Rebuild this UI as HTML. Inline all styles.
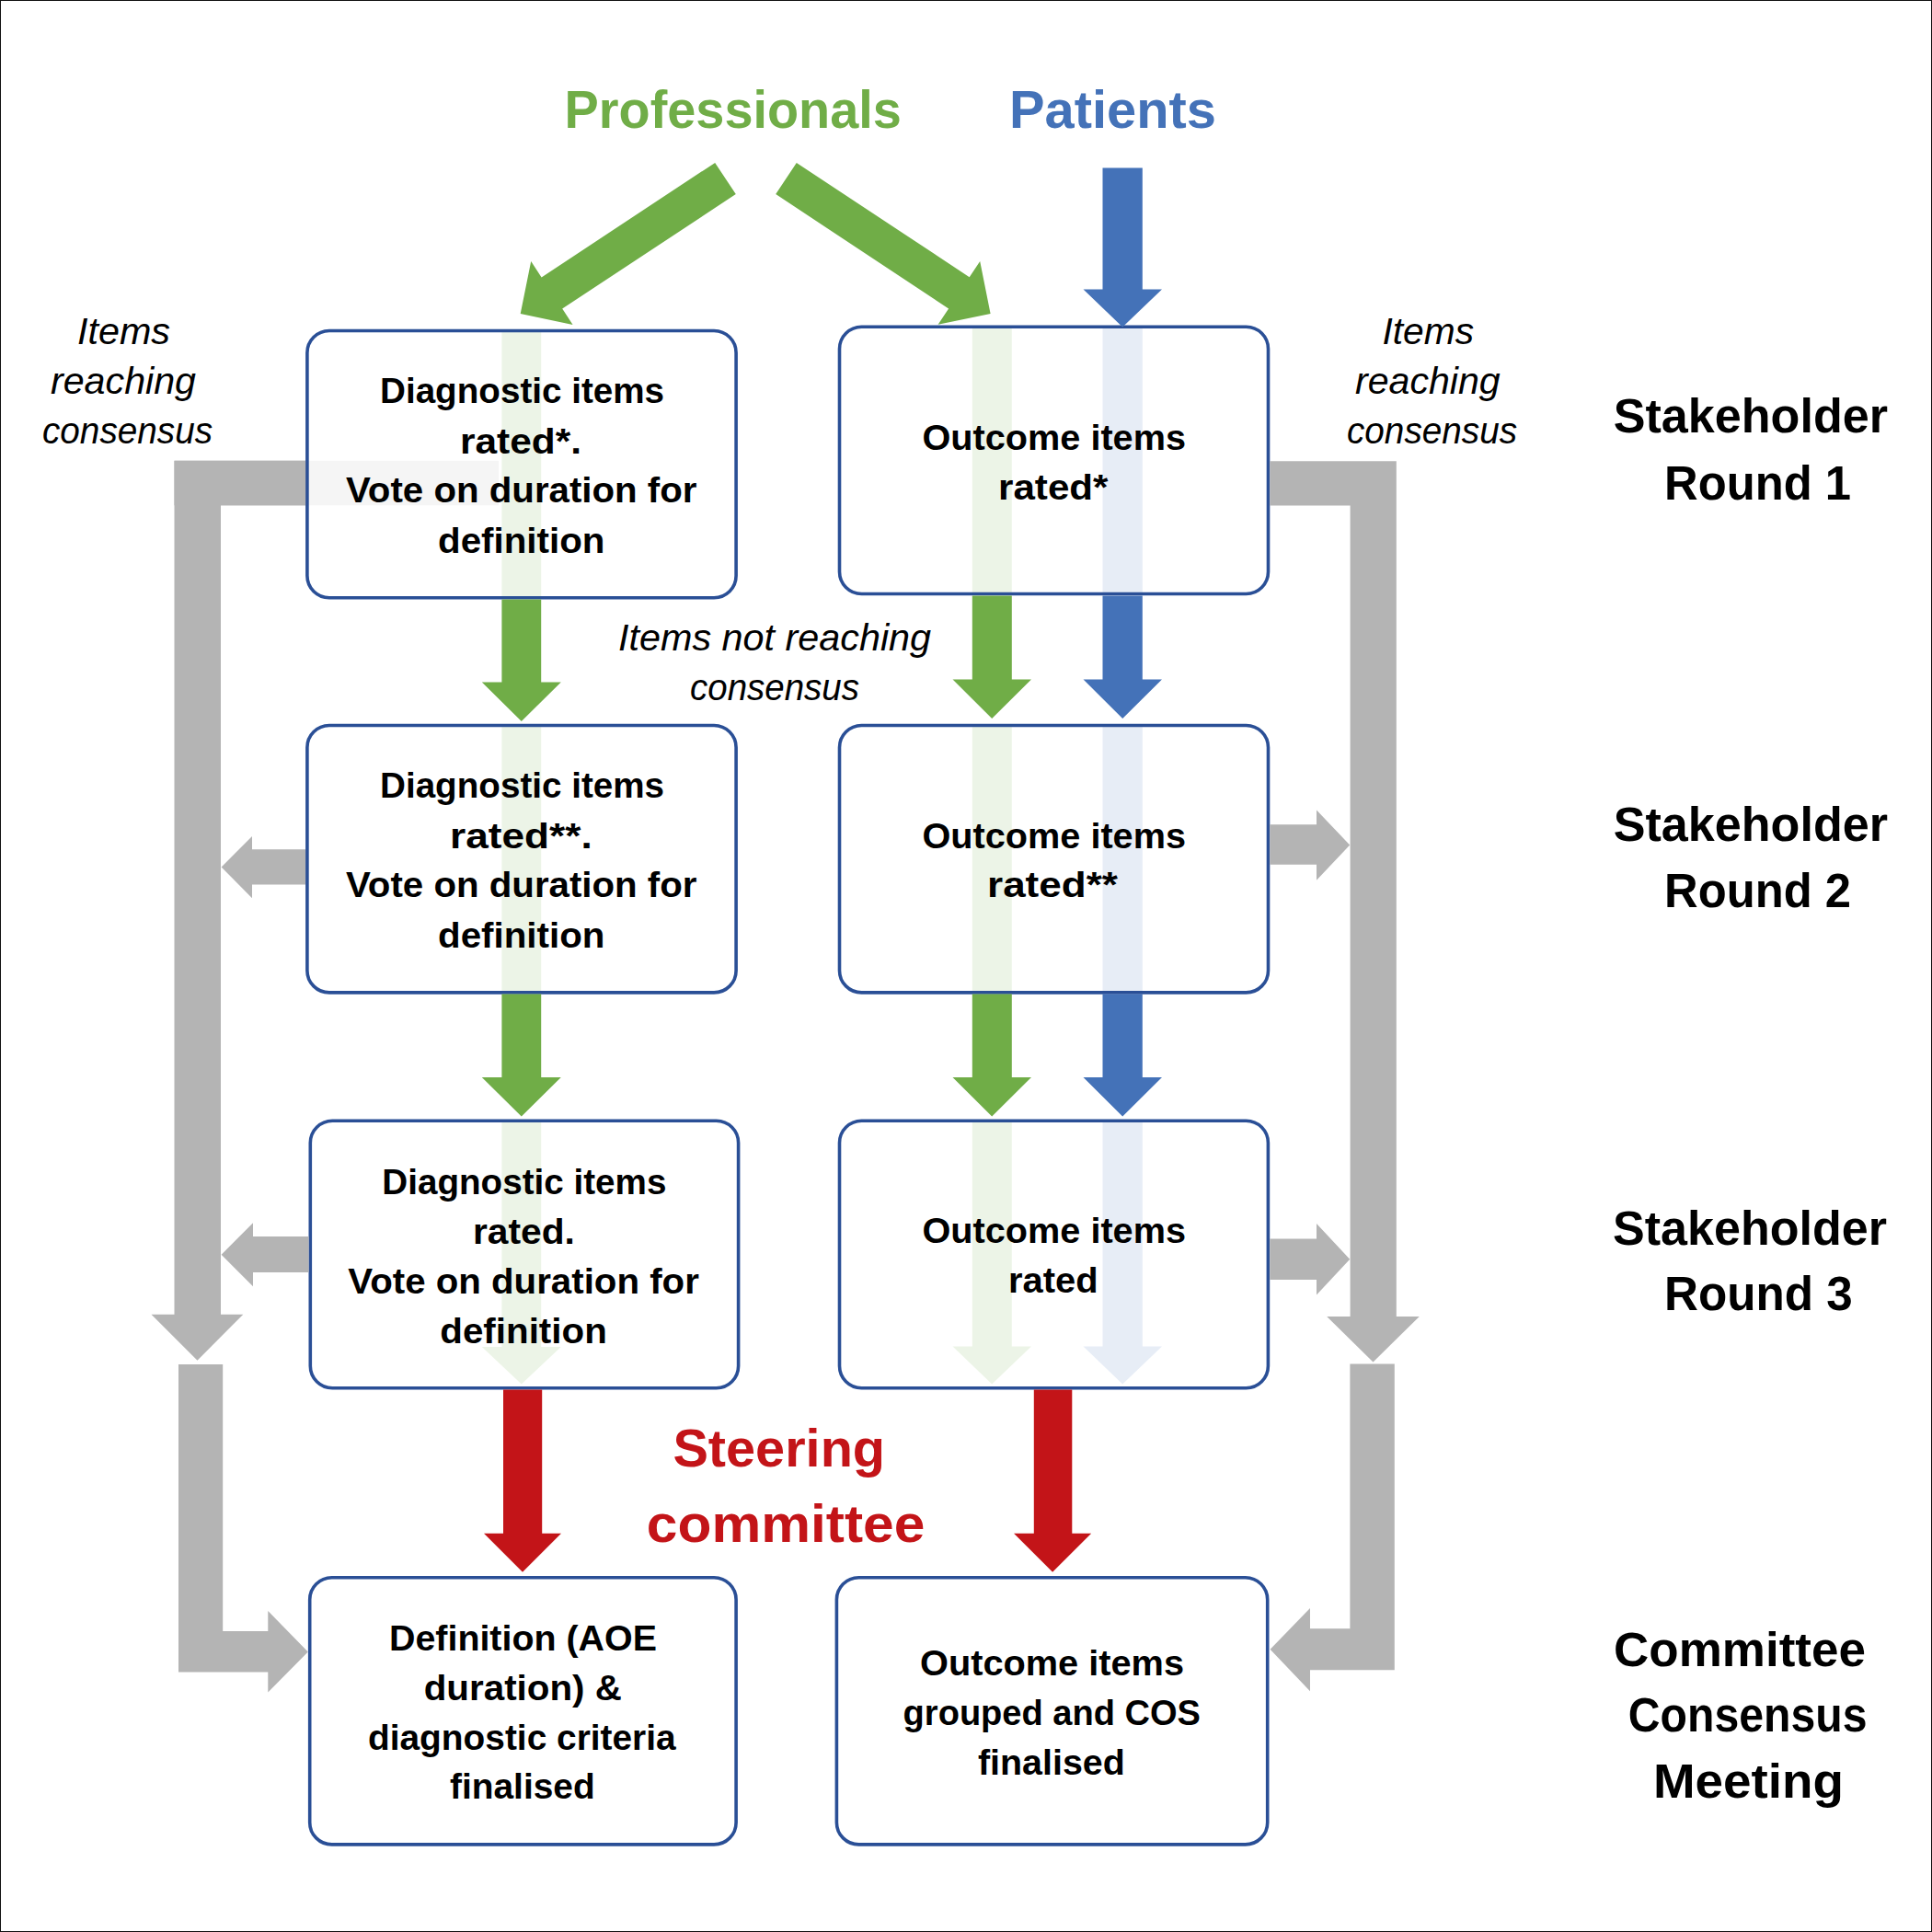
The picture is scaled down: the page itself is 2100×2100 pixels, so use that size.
<!DOCTYPE html>
<html lang="en"><head><meta charset="utf-8"><title>Consensus process flow diagram</title>
<style>
html,body{margin:0;padding:0;background:#fff;}
body{width:2100px;height:2100px;overflow:hidden;position:relative;}
svg{display:block;position:absolute;left:0;top:0;}
svg text{font-family:"Liberation Sans",sans-serif;}
.frame{position:absolute;left:0;top:0;width:2100px;height:2100px;box-sizing:border-box;border:1px solid #111;}
</style></head><body>
<svg width="2100" height="2100" viewBox="0 0 2100 2100">
<rect width="2100" height="2100" fill="#fff"/>
<rect x="545.4" y="361.0" width="42.8" height="288.0" fill="#70AD47"/>
<rect x="545.4" y="789.5" width="42.8" height="288.5" fill="#70AD47"/>
<rect x="1056.8" y="357.0" width="43.0" height="288.0" fill="#70AD47"/>
<rect x="1198.5" y="357.0" width="43.3" height="288.0" fill="#4472B8"/>
<rect x="1056.8" y="789.5" width="43.0" height="288.5" fill="#70AD47"/>
<rect x="1198.5" y="789.5" width="43.3" height="288.5" fill="#4472B8"/>
<polygon points="545.4,1219.5 588.2,1219.5 588.2,1464.0 609.8,1464.0 566.8,1504.5 523.8,1464.0 545.4,1464.0" fill="#70AD47"/>
<polygon points="1056.8,1219.5 1099.8,1219.5 1099.8,1463.5 1121.0,1463.5 1078.2,1504.5 1035.5,1463.5 1056.8,1463.5" fill="#70AD47"/>
<polygon points="1198.5,1219.5 1241.8,1219.5 1241.8,1463.5 1263.0,1463.5 1220.2,1504.5 1177.5,1463.5 1198.5,1463.5" fill="#4472B8"/>
<rect x="189.5" y="500.8" width="352.5" height="48.5" fill="#B4B4B4"/>
<rect x="333.9" y="359.5" width="466.2" height="290.3" rx="24" ry="24" fill="rgba(255,255,255,0.87)" stroke="#2A4F96" stroke-width="3.6"/>
<rect x="912.5" y="355.3" width="466.0" height="290.2" rx="24" ry="24" fill="rgba(255,255,255,0.87)" stroke="#2A4F96" stroke-width="3.6"/>
<rect x="333.9" y="788.5" width="466.2" height="290.4" rx="24" ry="24" fill="rgba(255,255,255,0.87)" stroke="#2A4F96" stroke-width="3.6"/>
<rect x="912.5" y="788.5" width="466.0" height="290.4" rx="24" ry="24" fill="rgba(255,255,255,0.87)" stroke="#2A4F96" stroke-width="3.6"/>
<rect x="337.3" y="1218.3" width="465.3" height="290.4" rx="24" ry="24" fill="rgba(255,255,255,0.87)" stroke="#2A4F96" stroke-width="3.6"/>
<rect x="912.5" y="1218.3" width="465.9" height="290.4" rx="24" ry="24" fill="rgba(255,255,255,0.87)" stroke="#2A4F96" stroke-width="3.6"/>
<rect x="336.7" y="1714.7" width="463.4" height="290.2" rx="24" ry="24" fill="rgba(255,255,255,0.87)" stroke="#2A4F96" stroke-width="3.6"/>
<rect x="909.4" y="1714.7" width="468.3" height="290.2" rx="24" ry="24" fill="rgba(255,255,255,0.87)" stroke="#2A4F96" stroke-width="3.6"/>
<polygon points="777.2,176.9 588.6,301.4 577.2,284.1 565.7,341.1 622.6,352.9 611.2,335.6 799.8,211.1" fill="#70AD47"/>
<polygon points="843.2,211.1 1031.1,335.4 1019.6,352.7 1076.6,340.9 1065.2,283.9 1053.7,301.2 865.8,176.9" fill="#70AD47"/>
<polygon points="1198.5,182.5 1241.8,182.5 1241.8,314.5 1263.0,314.5 1220.2,355.5 1177.5,314.5 1198.5,314.5" fill="#4472B8"/>
<polygon points="545.4,651.5 588.2,651.5 588.2,741.5 609.8,741.5 566.8,784.0 523.8,741.5 545.4,741.5" fill="#70AD47"/>
<polygon points="1056.8,647.5 1099.8,647.5 1099.8,738.5 1121.0,738.5 1078.2,781.0 1035.5,738.5 1056.8,738.5" fill="#70AD47"/>
<polygon points="1198.5,647.5 1241.8,647.5 1241.8,738.5 1263.0,738.5 1220.2,781.0 1177.5,738.5 1198.5,738.5" fill="#4472B8"/>
<polygon points="545.4,1080.5 588.2,1080.5 588.2,1171.0 609.8,1171.0 566.8,1213.5 523.8,1171.0 545.4,1171.0" fill="#70AD47"/>
<polygon points="1056.8,1080.5 1099.8,1080.5 1099.8,1171.0 1121.0,1171.0 1078.2,1213.5 1035.5,1171.0 1056.8,1171.0" fill="#70AD47"/>
<polygon points="1198.5,1080.5 1241.8,1080.5 1241.8,1171.0 1263.0,1171.0 1220.2,1213.5 1177.5,1171.0 1198.5,1171.0" fill="#4472B8"/>
<polygon points="547.0,1510.5 589.2,1510.5 589.2,1666.8 610.0,1666.8 568.0,1708.8 526.0,1666.8 547.0,1666.8" fill="#C31418"/>
<polygon points="1123.8,1510.5 1165.3,1510.5 1165.3,1666.8 1186.2,1666.8 1144.1,1708.8 1102.0,1666.8 1123.8,1666.8" fill="#C31418"/>
<polygon points="189.5,500.8 332.1,500.8 332.1,549.3 240.0,549.3 240.0,1428.8 264.3,1428.8 214.5,1478.7 164.5,1428.8 189.5,1428.8" fill="#B4B4B4"/>
<polygon points="1380.3,501.2 1517.8,501.2 1517.8,1431.0 1542.8,1431.0 1492.5,1480.5 1442.2,1431.0 1467.6,1431.0 1467.6,549.4 1380.3,549.4" fill="#B4B4B4"/>
<polygon points="194.0,1483.0 242.2,1483.0 242.2,1773.0 291.3,1773.0 291.3,1751.0 334.8,1795.5 291.3,1839.5 291.3,1817.5 194.0,1817.5" fill="#B4B4B4"/>
<polygon points="1467.4,1482.5 1515.8,1482.5 1515.8,1815.2 1424.0,1815.2 1424.0,1838.2 1380.6,1792.8 1424.0,1748.0 1424.0,1770.3 1467.4,1770.3" fill="#B4B4B4"/>
<polygon points="332.0,923.2 274.0,923.2 274.0,909.0 240.6,942.6 274.0,976.2 274.0,961.4 332.0,961.4" fill="#B4B4B4"/>
<polygon points="335.5,1344.0 275.0,1344.0 275.0,1329.2 240.6,1363.7 275.0,1398.2 275.0,1383.0 335.5,1383.0" fill="#B4B4B4"/>
<polygon points="1380.3,896.3 1431.0,896.3 1431.0,880.4 1467.2,918.6 1431.0,956.8 1431.0,939.7 1380.3,939.7" fill="#B4B4B4"/>
<polygon points="1380.3,1346.5 1431.0,1346.5 1431.0,1330.0 1467.2,1368.7 1431.0,1407.4 1431.0,1391.0 1380.3,1391.0" fill="#B4B4B4"/>
<text x="613.5" y="138.5" font-size="58" textLength="366.4" lengthAdjust="spacingAndGlyphs" fill="#70AD47" style="font-weight:700">Professionals</text>
<text x="1097.0" y="138.5" font-size="58" textLength="225.0" lengthAdjust="spacingAndGlyphs" fill="#4472B8" style="font-weight:700">Patients</text>
<text x="731.4" y="1594.0" font-size="57" textLength="230.7" lengthAdjust="spacingAndGlyphs" fill="#C31418" style="font-weight:700">Steering</text>
<text x="702.8" y="1676.0" font-size="57" textLength="302.6" lengthAdjust="spacingAndGlyphs" fill="#C31418" style="font-weight:700">committee</text>
<text x="1753.7" y="470.0" font-size="51" textLength="298.3" lengthAdjust="spacingAndGlyphs" fill="#000" style="font-weight:700">Stakeholder</text>
<text x="1809.0" y="543.0" font-size="51" textLength="203.0" lengthAdjust="spacingAndGlyphs" fill="#000" style="font-weight:700">Round 1</text>
<text x="1753.7" y="914.0" font-size="51" textLength="298.3" lengthAdjust="spacingAndGlyphs" fill="#000" style="font-weight:700">Stakeholder</text>
<text x="1809.0" y="986.0" font-size="51" textLength="203.0" lengthAdjust="spacingAndGlyphs" fill="#000" style="font-weight:700">Round 2</text>
<text x="1753.0" y="1352.8" font-size="51" textLength="298.0" lengthAdjust="spacingAndGlyphs" fill="#000" style="font-weight:700">Stakeholder</text>
<text x="1809.0" y="1423.6" font-size="51" textLength="204.7" lengthAdjust="spacingAndGlyphs" fill="#000" style="font-weight:700">Round 3</text>
<text x="1754.0" y="1811.0" font-size="51" textLength="273.9" lengthAdjust="spacingAndGlyphs" fill="#000" style="font-weight:700">Committee</text>
<text x="1769.8" y="1882.0" font-size="51" textLength="259.7" lengthAdjust="spacingAndGlyphs" fill="#000" style="font-weight:700">Consensus</text>
<text x="1797.0" y="1953.5" font-size="51" textLength="206.9" lengthAdjust="spacingAndGlyphs" fill="#000" style="font-weight:700">Meeting</text>
<text x="84.0" y="374.0" font-size="40" textLength="101.0" lengthAdjust="spacingAndGlyphs" fill="#000" style="font-style:italic">Items</text>
<text x="55.0" y="428.0" font-size="40" textLength="158.0" lengthAdjust="spacingAndGlyphs" fill="#000" style="font-style:italic">reaching</text>
<text x="46.0" y="482.0" font-size="40" textLength="185.0" lengthAdjust="spacingAndGlyphs" fill="#000" style="font-style:italic">consensus</text>
<text x="1502.5" y="374.0" font-size="40" textLength="99.5" lengthAdjust="spacingAndGlyphs" fill="#000" style="font-style:italic">Items</text>
<text x="1473.0" y="428.0" font-size="40" textLength="157.6" lengthAdjust="spacingAndGlyphs" fill="#000" style="font-style:italic">reaching</text>
<text x="1464.0" y="482.0" font-size="40" textLength="185.0" lengthAdjust="spacingAndGlyphs" fill="#000" style="font-style:italic">consensus</text>
<text x="672.0" y="706.8" font-size="40" textLength="340.1" lengthAdjust="spacingAndGlyphs" fill="#000" style="font-style:italic">Items not reaching</text>
<text x="750.0" y="761.0" font-size="40" textLength="184.0" lengthAdjust="spacingAndGlyphs" fill="#000" style="font-style:italic">consensus</text>
<text x="413.0" y="438.2" font-size="39" textLength="309.1" lengthAdjust="spacingAndGlyphs" fill="#000" style="font-weight:700">Diagnostic items</text>
<text x="500.0" y="492.8" font-size="39" textLength="132.1" lengthAdjust="spacingAndGlyphs" fill="#000" style="font-weight:700">rated*.</text>
<text x="376.0" y="546.2" font-size="39" textLength="381.5" lengthAdjust="spacingAndGlyphs" fill="#000" style="font-weight:700">Vote on duration for</text>
<text x="476.0" y="600.6" font-size="39" textLength="181.5" lengthAdjust="spacingAndGlyphs" fill="#000" style="font-weight:700">definition</text>
<text x="413.0" y="866.7" font-size="39" textLength="309.1" lengthAdjust="spacingAndGlyphs" fill="#000" style="font-weight:700">Diagnostic items</text>
<text x="489.0" y="921.9" font-size="39" textLength="154.7" lengthAdjust="spacingAndGlyphs" fill="#000" style="font-weight:700">rated**.</text>
<text x="376.0" y="975.2" font-size="39" textLength="381.5" lengthAdjust="spacingAndGlyphs" fill="#000" style="font-weight:700">Vote on duration for</text>
<text x="476.0" y="1029.8" font-size="39" textLength="181.5" lengthAdjust="spacingAndGlyphs" fill="#000" style="font-weight:700">definition</text>
<text x="415.3" y="1297.6" font-size="39" textLength="309.1" lengthAdjust="spacingAndGlyphs" fill="#000" style="font-weight:700">Diagnostic items</text>
<text x="514.0" y="1351.9" font-size="39" textLength="110.9" lengthAdjust="spacingAndGlyphs" fill="#000" style="font-weight:700">rated.</text>
<text x="378.3" y="1406.2" font-size="39" textLength="381.5" lengthAdjust="spacingAndGlyphs" fill="#000" style="font-weight:700">Vote on duration for</text>
<text x="478.3" y="1459.8" font-size="39" textLength="181.5" lengthAdjust="spacingAndGlyphs" fill="#000" style="font-weight:700">definition</text>
<text x="1002.5" y="488.9" font-size="39" textLength="286.5" lengthAdjust="spacingAndGlyphs" fill="#000" style="font-weight:700">Outcome items</text>
<text x="1085.0" y="543.2" font-size="39" textLength="119.5" lengthAdjust="spacingAndGlyphs" fill="#000" style="font-weight:700">rated*</text>
<text x="1002.5" y="921.9" font-size="39" textLength="286.5" lengthAdjust="spacingAndGlyphs" fill="#000" style="font-weight:700">Outcome items</text>
<text x="1073.0" y="975.2" font-size="39" textLength="141.9" lengthAdjust="spacingAndGlyphs" fill="#000" style="font-weight:700">rated**</text>
<text x="1002.5" y="1350.6" font-size="39" textLength="286.5" lengthAdjust="spacingAndGlyphs" fill="#000" style="font-weight:700">Outcome items</text>
<text x="1096.0" y="1405.0" font-size="39" textLength="97.6" lengthAdjust="spacingAndGlyphs" fill="#000" style="font-weight:700">rated</text>
<text x="423.0" y="1793.6" font-size="39" textLength="290.9" lengthAdjust="spacingAndGlyphs" fill="#000" style="font-weight:700">Definition (AOE</text>
<text x="460.7" y="1847.6" font-size="39" textLength="215.2" lengthAdjust="spacingAndGlyphs" fill="#000" style="font-weight:700">duration) &amp;</text>
<text x="400.0" y="1901.6" font-size="39" textLength="334.6" lengthAdjust="spacingAndGlyphs" fill="#000" style="font-weight:700">diagnostic criteria</text>
<text x="489.0" y="1955.4" font-size="39" textLength="157.7" lengthAdjust="spacingAndGlyphs" fill="#000" style="font-weight:700">finalised</text>
<text x="1000.0" y="1821.2" font-size="39" textLength="287.0" lengthAdjust="spacingAndGlyphs" fill="#000" style="font-weight:700">Outcome items</text>
<text x="981.6" y="1875.0" font-size="39" textLength="323.4" lengthAdjust="spacingAndGlyphs" fill="#000" style="font-weight:700">grouped and COS</text>
<text x="1063.0" y="1929.2" font-size="39" textLength="159.8" lengthAdjust="spacingAndGlyphs" fill="#000" style="font-weight:700">finalised</text>
</svg>
<div class="frame"></div>
</body></html>
